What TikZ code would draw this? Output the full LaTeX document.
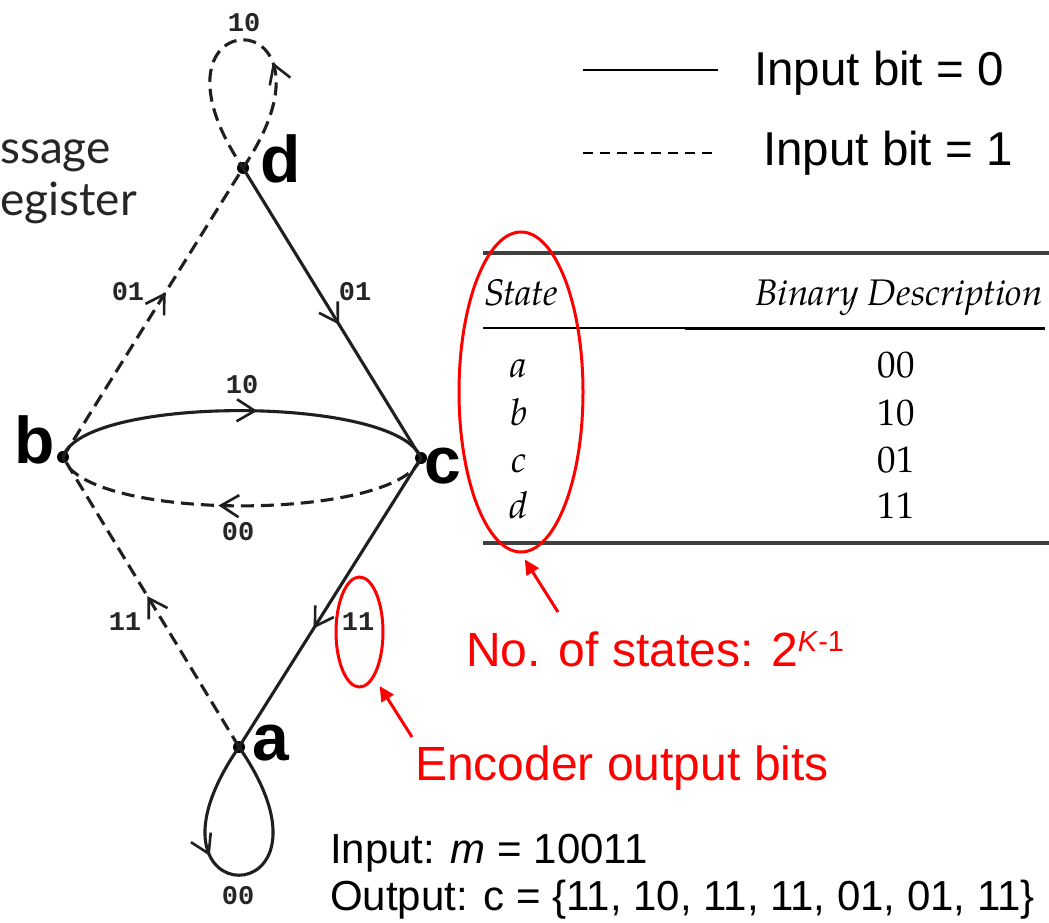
\documentclass[tikz,border=0pt]{standalone}
\usepackage{fontspec}
\newfontfamily\arialf{Liberation Sans}
\newfontfamily\latof{Lato}
\newfontfamily\monof{Liberation Mono}
\newfontfamily\palf{texgyrepagella}[Extension=.otf, UprightFont=*-regular,
  ItalicFont=*-italic, BoldFont=*-bold, BoldItalicFont=*-bolditalic]
\usetikzlibrary{arrows.meta,decorations.markings,shapes.geometric}

\tikzset{
  trans/.style={line width=3.1pt, draw=black!88},
  transdash/.style={trans, dash pattern=on 13pt off 7pt},
  midarrow/.style={postaction={decorate}, decoration={markings,
      mark=at position #1 with {\arrow[line width=2.6pt, solid, black!88]{Straight Barb[length=18pt,width=22pt]}}}},
  statedot/.style={circle, fill=black, inner sep=0pt, minimum size=12pt},
  bits/.style={font=\monof\bfseries\fontsize{27}{27}\selectfont, text=black!85, inner sep=0pt},
  statename/.style={font=\arialf\bfseries\fontsize{66}{66}\selectfont, inner sep=0pt, anchor=base west},
  slidetext/.style={font=\arialf\fontsize{47.5}{50}\selectfont, inner sep=0pt, anchor=base west},
  redtext/.style={font=\arialf\fontsize{48}{50}\selectfont, text=red, inner sep=0pt, anchor=base west},
  codetext/.style={font=\arialf\fontsize{42}{44}\selectfont, inner sep=0pt, anchor=base west},
  partial/.style={font=\latof\fontsize{46}{48}\selectfont, text=black!85, inner sep=0pt, anchor=base west},
  tabhead/.style={font=\palf\itshape\fontsize{37}{40}\selectfont, inner sep=0pt},
  tabcell/.style={font=\palf\fontsize{37}{40}\selectfont, inner sep=0pt, anchor=base},
  redring/.style={draw=red, ellipse, line width=3pt, inner sep=0pt},
  redarrow/.style={draw=red, line width=3pt, -{Triangle[length=15pt,width=14pt]}},
  rule/.style={line width=#1, draw=black!75},
}

\begin{document}
\begin{tikzpicture}[x=1pt, y=-1pt]
  \fill[white] (0,0) rectangle (1049,923);
  \useasboundingbox (0,0) rectangle (1049,923);

  % text cut off at the slide's left edge
  \node[partial] (msg) at (0,163) {ssage};
  \node[partial] (reg) at (0,215) {egister};

  % states
  \node[statedot] (d) at (243,168) {};
  \node[statedot] (b) at (63,457) {};
  \node[statedot] (c) at (421,458) {};
  \node[statedot] (a) at (239,747) {};

  \node[statename] (dl) at (260,182) {d};
  \node[statename] (bl) at (14,463) {b};
  \node[statename] (cl) at (424,483) {c};
  \node[statename] (al) at (252,760) {a};

  % transitions
  \draw[transdash, midarrow=0.37] (d.center) .. controls (358,-3) and (128,-3) .. (d.center);
  \draw[transdash, midarrow=0.57] (b.center) -- (d.center);
  \draw[trans, midarrow=0.54] (d.center) -- (c.center);
  \draw[trans, midarrow=0.54] (b.center) .. controls (82,395) and (398,395) .. (c.center);
  \draw[transdash, midarrow=0.56] (c.center) .. controls (398,522) and (82,522) .. (b.center);
  \draw[trans, midarrow=0.59] (c.center) -- (a.center);
  \draw[transdash, midarrow=0.52] (a.center) -- (b.center);
  \draw[trans, midarrow=0.38] (a.center) .. controls (121,918) and (357,918) .. (a.center);

  % output bits on each transition
  \node[bits] (l1) at (244,23) {10};
  \node[bits] (l2) at (128,292) {01};
  \node[bits] (l3) at (355,292) {01};
  \node[bits] (l4) at (242,385) {10};
  \node[bits] (l5) at (238,532) {00};
  \node[bits] (l6) at (125,622) {11};
  \node[bits] (l7) at (358,622) {11};
  \node[bits] (l8) at (238,896) {00};

  % legend
  \coordinate (s0) at (583,70);
  \coordinate (s1) at (718,70);
  \coordinate (t0) at (583,153);
  \coordinate (t1) at (713,153);
  \draw[line width=2pt] (s0) -- (s1);
  \draw[line width=2pt, dash pattern=on 9.5pt off 7.5pt] (t0) -- (t1);
  \node[slidetext] (leg0) at (754,86) {Input bit = 0};
  \node[slidetext] (leg1) at (763,165) {Input bit = 1};

  % state table
  \coordinate (r0a) at (483,253);  \coordinate (r0b) at (1049,253);
  \coordinate (r1a) at (483,328);  \coordinate (r1m) at (685,328);
  \coordinate (r1b) at (1045,328);
  \coordinate (r2a) at (483,543);  \coordinate (r2b) at (1049,543);
  \draw[rule=4pt] (r0a) -- (r0b);
  \draw[rule=1.6pt, draw=black] (r1a) -- (r1m);
  \draw[rule=3pt, draw=black] (r1m) -- (r1b);
  \draw[rule=4pt] (r2a) -- (r2b);

  \node[tabhead, anchor=base west] (hs) at (484,305) {State};
  \node[tabhead, anchor=base east] (hb) at (1043,305) {Binary Description};
  \node[tabcell] (sa) at (519,377) {\itshape a};
  \node[tabcell] (sb) at (519,425) {\itshape b};
  \node[tabcell] (sc) at (519,472) {\itshape c};
  \node[tabcell] (sd) at (519,518) {\itshape d};
  \node[tabcell] (va) at (896,377) {00};
  \node[tabcell] (vb) at (896,425) {10};
  \node[tabcell] (vc) at (896,472) {01};
  \node[tabcell] (vd) at (896,518) {11};

  % annotations
  \node[redring, minimum width=124pt, minimum height=320pt] (ring1) at (521,392) {};
  \node[redring, minimum width=47pt, minimum height=110pt] (ring2) at (359.5,632) {};
  \coordinate (p1) at (558,612);
  \coordinate (p2) at (412,737);
  \draw[redarrow, shorten >=7pt] (p1) -- (ring1.south);
  \draw[redarrow, shorten >=10pt] (p2) -- (ring2.-72);
  \node[redtext] (nstates) at (466,666) {No. of states: 2\raisebox{15pt}{\fontsize{29}{30}\selectfont\textit{K}-1}};
  \node[redtext] (encbits) at (415,780) {Encoder output bits};

  % example sequence
  \node[codetext] (inp) at (330,863) {Input: \textit{m} = 10011};
  \node[codetext] (outp) at (330,910) {Output: c = \{11, 10, 11, 11, 01, 01, 11\}};
\end{tikzpicture}
\end{document}
